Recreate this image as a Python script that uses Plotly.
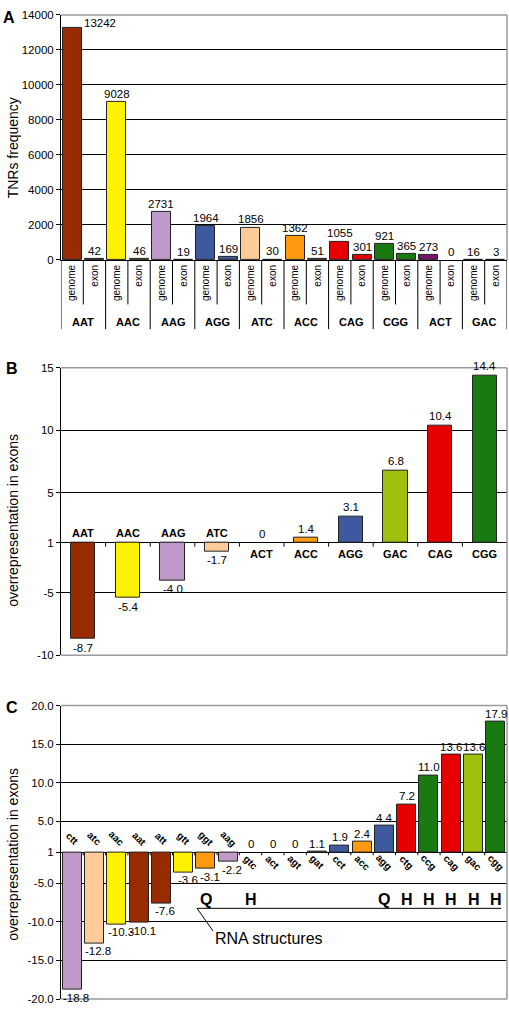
import plotly.graph_objects as go

W, H = 509, 1012
FONT = "Liberation Sans, Arial, sans-serif"

# ---------------- Panel A data ----------------
groups_a = ["AAT", "AAC", "AAG", "AGG", "ATC", "ACC", "CAG", "CGG", "ACT", "GAC"]
genome_a = [13242, 9028, 2731, 1964, 1856, 1362, 1055, 921, 273, 16]
exon_a = [42, 46, 19, 169, 30, 51, 301, 365, 0, 3]
sub_labels_a = ["genome", "exon"]

# ---------------- Panel B data ----------------
cats_b = ["AAT", "AAC", "AAG", "ATC", "ACT", "ACC", "AGG", "GAC", "CAG", "CGG"]
vals_b = [-8.7, -5.4, -4.0, -1.7, 0, 1.4, 3.1, 6.8, 10.4, 14.4]
ticks_b = [15, 10, 5, 1, -5, -10]

# ---------------- Panel C data ----------------
cats_c = ["ctt", "atc", "aac", "aat", "att", "gtt", "ggt", "aag", "gtc", "act",
          "agt", "gat", "cct", "acc", "agg", "ctg", "ccg", "cag", "gac", "cgg"]
vals_c = [-18.8, -12.8, -10.3, -10.1, -7.6, -3.6, -3.1, -2.2, 0, 0,
          0, 1.1, 1.9, 2.4, 4.4, 7.2, 11.0, 13.6, 13.6, 17.9]
struct_c = ["", "", "", "", "", "", "Q", "", "H", "",
            "", "", "", "", "Q", "H", "H", "H", "H", "H"]
ticks_c = [20, 15, 10, 5, 1, -5, -10, -15, -20]

# ---------------- colours ----------------
PAL = {
    "AAT": "#992B00", "AAC": "#FFF200", "AAG": "#BF9AC8", "AGG": "#3D5A9E",
    "ATC": "#FFCC99", "ACC": "#FF9A10", "CAG": "#E60000", "CGG": "#1A7A12",
    "ACT": "#7A1070", "GAC": "#A0C010",
}
colors_c = ["#BF9AC8", "#FFCC99", "#FFF200", "#992B00", "#992B00", "#FFF200",
            "#FF9A10", "#BF9AC8", "#FFFFFF", "#FFFFFF", "#FFFFFF", "#7F6F5F",
            "#3D5A9E", "#FF9A10", "#3D5A9E", "#E60000", "#1A7A12", "#E60000",
            "#A0C010", "#1A7A12"]


def fold_pos(v):
    """Under-representation -x is drawn at -x+2 so that +1 and -1 coincide."""
    if v < 0:
        return v + 2
    return max(v, 1)


def px_x(x):
    return x / W


def px_y(y):
    return 1 - y / H


X0, X1 = 61, 507
A_TOP, A_BOT = 9, 257
B_TOP, B_BOT = 366, 657
C_TOP, C_BOT = 708, 1005
A_MAX = 14000
B_RANGE = [fold_pos(-10), 15]
C_RANGE = [fold_pos(-20), 20]

fig = go.Figure()
annotations = []
shapes = []
TXT = dict(size=11.5, family=FONT, color="#000")

# ======================= Panel A =======================
xa = list(range(2 * len(groups_a)))
ya, ca, texts_a = [], [], []
for g, name in enumerate(groups_a):
    for v in (genome_a[g], exon_a[g]):
        ya.append(v if v > 0 else None)
        ca.append(PAL[name])
        texts_a.append(v)

fig.add_trace(go.Bar(x=xa, y=ya, marker=dict(color=ca, line=dict(color="#222", width=1)),
                     width=0.85, xaxis="x", yaxis="y", showlegend=False, hoverinfo="skip"))

for i, v in enumerate(texts_a):
    if v > 0.9 * A_MAX:
        annotations.append(dict(x=i + 0.43, y=v, xref="x", yref="y", text=str(v), showarrow=False,
                                xanchor="left", yanchor="bottom", yshift=-3, font=TXT))
    else:
        annotations.append(dict(x=i, y=v, xref="x", yref="y", text=str(v), showarrow=False,
                                xanchor="center", yanchor="bottom", yshift=0, font=TXT))

# table lines under panel A
for g in range(len(groups_a)):
    shapes.append(dict(type="line", xref="x", yref="paper", x0=2 * g + 0.5, x1=2 * g + 0.5,
                       y0=px_y(A_BOT), y1=px_y(302), line=dict(color="#000", width=1)))
    annotations.append(dict(x=2 * g + 0.5, y=px_y(320), xref="x", yref="paper", text="<b>%s</b>" % groups_a[g],
                            showarrow=False, xanchor="center", yanchor="middle",
                            font=dict(size=11, family=FONT, color="#000")))
for g in range(len(groups_a) + 1):
    shapes.append(dict(type="line", xref="x", yref="paper", x0=2 * g - 0.5, x1=2 * g - 0.5,
                       y0=px_y(A_BOT), y1=px_y(327), line=dict(color="#000", width=1)))

# ======================= Panel B =======================
xb = list(range(len(cats_b)))
yb = [fold_pos(v) - 1 if v != 0 else None for v in vals_b]
fig.add_trace(go.Bar(x=xb, y=yb, base=1, marker=dict(color=[PAL[c] for c in cats_b], line=dict(color="#222", width=1)),
                     width=0.54, xaxis="x2", yaxis="y2", showlegend=False, hoverinfo="skip"))
for i, (c, v) in enumerate(zip(cats_b, vals_b)):
    p = fold_pos(v)
    txt = "%.1f" % v if v != 0 else "0"
    if v < 0:
        annotations.append(dict(x=i, y=p, xref="x2", yref="y2", text=txt, showarrow=False,
                                yanchor="top", yshift=-1, font=TXT))
        annotations.append(dict(x=i, y=1, xref="x2", yref="y2", text="<b>%s</b>" % c, showarrow=False,
                                yanchor="middle", yshift=10, font=dict(size=11, family=FONT, color="#000")))
    else:
        annotations.append(dict(x=i, y=p, xref="x2", yref="y2", text=txt, showarrow=False,
                                yanchor="bottom", yshift=1, font=TXT))
        annotations.append(dict(x=i, y=1, xref="x2", yref="y2", text="<b>%s</b>" % c, showarrow=False,
                                yanchor="middle", yshift=-11, font=dict(size=11, family=FONT, color="#000")))
ppu_b = (B_BOT - B_TOP) / (B_RANGE[1] - B_RANGE[0])
for i in range(len(cats_b) - 1):
    shapes.append(dict(type="line", xref="x2", yref="y2", x0=i + 0.5, x1=i + 0.5,
                       y0=1, y1=1 - 4 / ppu_b, line=dict(color="#000", width=1)))

# ======================= Panel C =======================
xc = list(range(len(cats_c)))
yc = [fold_pos(v) - 1 if v != 0 else None for v in vals_c]
fig.add_trace(go.Bar(x=xc, y=yc, base=1, marker=dict(color=colors_c, line=dict(color="#222", width=1)),
                     width=0.85, xaxis="x3", yaxis="y3", showlegend=False, hoverinfo="skip"))
for i, (c, v) in enumerate(zip(cats_c, vals_c)):
    p = fold_pos(v)
    txt = "%.1f" % v if v != 0 else "0"
    if v < 0:
        annotations.append(dict(x=i, y=p, xref="x3", yref="y3", text=txt, showarrow=False,
                                yanchor="top", yshift=0, xshift=4, font=TXT))
        annotations.append(dict(x=i, y=1, xref="x3", yref="y3", text="<b>%s</b>" % c, showarrow=False,
                                textangle=45, yanchor="middle", yshift=14,
                                font=dict(size=10, family=FONT, color="#000")))
    else:
        annotations.append(dict(x=i, y=p, xref="x3", yref="y3", text=txt, showarrow=False,
                                yanchor="bottom", yshift=0, font=TXT))
        annotations.append(dict(x=i, y=1, xref="x3", yref="y3", text="<b>%s</b>" % c, showarrow=False,
                                textangle=45, yanchor="middle", yshift=-10,
                                font=dict(size=10, family=FONT, color="#000")))
ppu_c = (C_BOT - C_TOP) / (C_RANGE[1] - C_RANGE[0])
for i in range(len(cats_c) - 1):
    shapes.append(dict(type="line", xref="x3", yref="y3", x0=i + 0.5, x1=i + 0.5,
                       y0=1, y1=1 - 3 / ppu_c, line=dict(color="#000", width=1)))

# RNA structure marks
struct_idx = [i for i, s in enumerate(struct_c) if s]
for i in struct_idx:
    annotations.append(dict(x=i, y=-5.1, xref="x3", yref="y3", text="<b>%s</b>" % struct_c[i],
                            showarrow=False, yanchor="middle",
                            font=dict(size=16, family=FONT, color="#000")))
line_y = -6.25
lx0 = struct_idx[0] - 0.4
shapes.append(dict(type="line", xref="x3", yref="y3", x0=lx0, x1=struct_idx[-1] + 0.25,
                   y0=line_y, y1=line_y, line=dict(color="#000", width=1)))
shapes.append(dict(type="line", xref="x3", yref="y3", x0=lx0, x1=lx0 + 0.72,
                   y0=line_y, y1=-9.2, line=dict(color="#000", width=1)))
annotations.append(dict(x=lx0 + 0.72, y=-10.2, xref="x3", yref="y3", text="RNA structures",
                        showarrow=False, xanchor="left", yanchor="middle",
                        font=dict(size=16, family=FONT, color="#000")))

# ======================= frames & titles =======================
for top, bot, bottom_grey in ((A_TOP, A_BOT, False), (B_TOP, B_BOT, True), (C_TOP, C_BOT, True)):
    shapes.append(dict(type="line", xref="paper", yref="paper", x0=px_x(X0), x1=px_x(X1),
                       y0=px_y(top), y1=px_y(top), line=dict(color="#9A9A9A", width=1.5), layer="above"))
    shapes.append(dict(type="line", xref="paper", yref="paper", x0=px_x(X1), x1=px_x(X1),
                       y0=px_y(top), y1=px_y(bot), line=dict(color="#9A9A9A", width=1.5), layer="above"))
    if bottom_grey:
        shapes.append(dict(type="line", xref="paper", yref="paper", x0=px_x(X0), x1=px_x(X1),
                           y0=px_y(bot), y1=px_y(bot), line=dict(color="#9A9A9A", width=1.5), layer="above"))

for letter, (lx, ly) in zip("ABC", ((9, 12), (12, 367), (12, 710))):
    annotations.append(dict(x=px_x(lx), y=px_y(ly), xref="paper", yref="paper", text="<b>%s</b>" % letter,
                            showarrow=False, xanchor="center", yanchor="middle",
                            font=dict(size=16, family=FONT, color="#000")))
for title, ty in (("TNRs frequency", 144), ("overrepresentation in exons", 521),
                  ("overrepresentation in exons", 859)):
    annotations.append(dict(x=px_x(13), y=px_y(ty), xref="paper", yref="paper", text=title,
                            showarrow=False, textangle=-90, xanchor="center", yanchor="middle",
                            font=dict(size=14, family=FONT, color="#000")))

yaxis_common = dict(showgrid=True, gridcolor="#000", gridwidth=1, zeroline=False, showline=True,
                    linecolor="#000", linewidth=1, ticks="outside", ticklen=4, tickcolor="#000",
                    tickfont=dict(size=11.5, family=FONT, color="#000"))
xdom = [px_x(X0), px_x(X1)]

fig.update_layout(
    width=W, height=H, autosize=False, margin=dict(l=0, r=0, t=0, b=0),
    paper_bgcolor="white", plot_bgcolor="white", bargap=0,
    xaxis=dict(domain=xdom, anchor="y", range=[-0.5, len(xa) - 0.5], tickvals=xa,
               ticktext=[sub_labels_a[i % 2] for i in xa], tickangle=-90, ticks="",
               showline=True, linecolor="#000", linewidth=1, showgrid=False, zeroline=False,
               tickfont=dict(size=10, family=FONT, color="#000")),
    yaxis=dict(domain=[px_y(A_BOT), px_y(A_TOP)], anchor="x", range=[0, A_MAX], dtick=2000,
               tickformat="d", **yaxis_common),
    xaxis2=dict(domain=xdom, anchor="y2", range=[-0.5, len(xb) - 0.5], showticklabels=False,
                showgrid=False, zeroline=False, showline=False, ticks=""),
    yaxis2=dict(domain=[px_y(B_BOT), px_y(B_TOP)], anchor="x2", range=B_RANGE,
                tickvals=[fold_pos(t) for t in ticks_b], ticktext=[str(t) for t in ticks_b],
                **yaxis_common),
    xaxis3=dict(domain=xdom, anchor="y3", range=[-0.5, len(xc) - 0.5], showticklabels=False,
                showgrid=False, zeroline=False, showline=False, ticks=""),
    yaxis3=dict(domain=[px_y(C_BOT), px_y(C_TOP)], anchor="x3", range=C_RANGE,
                tickvals=[fold_pos(t) for t in ticks_c],
                ticktext=["1" if t == 1 else "%.1f" % t for t in ticks_c],
                **yaxis_common),
    annotations=annotations, shapes=shapes,
)

fig.write_html("out.html", config={"displayModeBar": False},
               post_script="document.body.style.margin='0';document.body.style.overflow='hidden';")
